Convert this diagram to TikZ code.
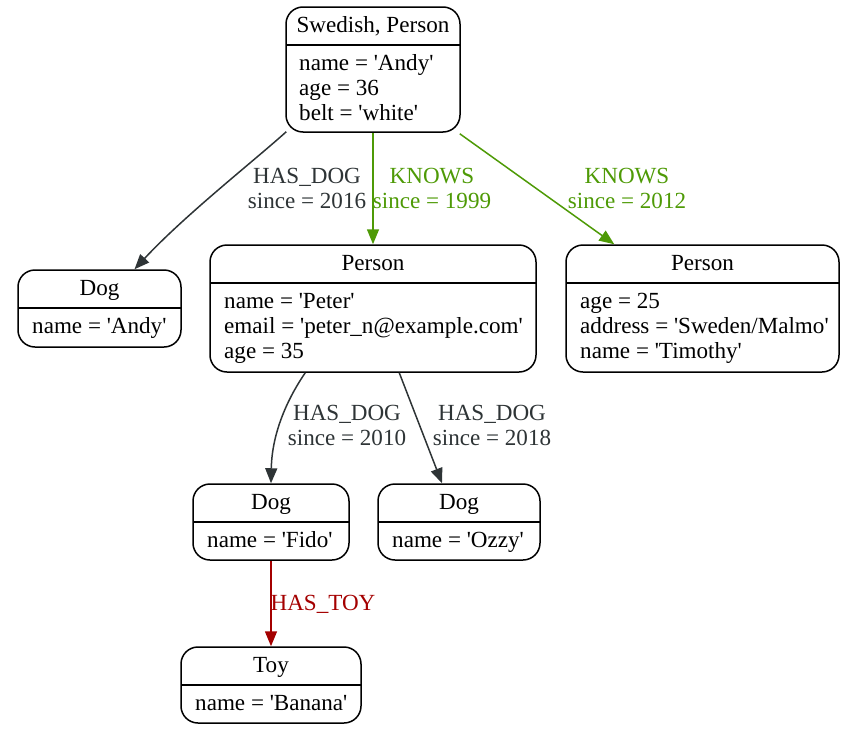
\documentclass[tikz,border=0pt]{standalone}
\usepackage{fontspec}
\setmainfont{Liberation Serif}[Ligatures=TeXOff]
\usetikzlibrary{arrows.meta,calc}
\definecolor{edgegray}{HTML}{2E3436}
\definecolor{knowsgreen}{HTML}{4E9A06}
\definecolor{toyred}{HTML}{A40000}
\tikzset{
  x=1pt,y=-1pt,
  box/.style={draw=black,line width=1.5pt,rounded corners=17pt,inner sep=0pt,fill=white},
  txt/.style={inner sep=0pt,font=\fontsize{23.1}{25}\selectfont},
  body/.style={txt,anchor=base west},
  head/.style={txt,anchor=base},
  divider/.style={line width=1.5pt},
  rel/.style={line width=1.5pt,-{Triangle[length=15pt,width=12pt]}},
  rellabel/.style={txt,anchor=base},
}
\begin{document}
\begin{tikzpicture}
\useasboundingbox (0,0) rectangle (868,739);
% nodes
\node[box,minimum width=174pt,minimum height=125pt] (andy) at (373,69.5) {};
\draw[divider] (286,45) -- (460,45);
\node[head] (andyh) at (373,32) {Swedish, Person};
\node[body] (andyb1) at (299,70) {name = 'Andy'};
\node[body] (andyb2) at (299,95) {age = 36};
\node[body] (andyb3) at (299,120) {belt = 'white'};

\node[box,minimum width=163pt,minimum height=77pt] (dog1) at (99.5,308.5) {};
\draw[divider] (18,308) -- (181,308);
\node[head] (dog1h) at (99.5,295) {Dog};
\node[body] (dog1b) at (32,333) {name = 'Andy'};

\node[box,minimum width=326pt,minimum height=127pt] (peter) at (373,308.5) {};
\draw[divider] (210,283) -- (536,283);
\node[head] (peterh) at (373,270) {Person};
\node[body] (peterb1) at (224,308) {name = 'Peter'};
\node[body] (peterb2) at (224,333) {email = 'peter\_n@example.com'};
\node[body] (peterb3) at (224,358) {age = 35};

\node[box,minimum width=273pt,minimum height=127pt] (tim) at (702.5,308.5) {};
\draw[divider] (566,283) -- (839,283);
\node[head] (timh) at (702.5,270) {Person};
\node[body] (timb1) at (580,308) {age = 25};
\node[body] (timb2) at (580,333) {address = 'Sweden/Malmo'};
\node[body] (timb3) at (580,358) {name = 'Timothy'};

\node[box,minimum width=156pt,minimum height=76pt] (fido) at (271,522) {};
\draw[divider] (193,522) -- (349,522);
\node[head] (fidoh) at (271,509) {Dog};
\node[body] (fidob) at (207,547) {name = 'Fido'};

\node[box,minimum width=162pt,minimum height=76pt] (ozzy) at (459,522) {};
\draw[divider] (378,522) -- (540,522);
\node[head] (ozzyh) at (459,509) {Dog};
\node[body] (ozzyb) at (392,547) {name = 'Ozzy'};

\node[box,minimum width=180pt,minimum height=76pt] (toy) at (271,685) {};
\draw[divider] (181,685) -- (361,685);
\node[head] (toyh) at (271,672) {Toy};
\node[body] (toyb) at (195,710) {name = 'Banana'};

% edges
\draw[rel,edgegray] ($(andy.south west)+(1,-1)$) .. controls (255,160) and (185,215) .. ($(dog1.north)+(35,0)$);
\node[rellabel,text=edgegray] (l1a) at (307,183) {HAS\_DOG};
\node[rellabel,text=edgegray] (l1b) at (307,208) {since = 2016};

\draw[rel,knowsgreen] (andy.south) -- (peter.north);
\node[rellabel,text=knowsgreen] (l2a) at (432,183) {KNOWS};
\node[rellabel,text=knowsgreen] (l2b) at (432,208) {since = 1999};

\draw[rel,knowsgreen] ($(andy.south east)+(-1,1)$) -- ($(tim.north west)+(49,0)$);
\node[rellabel,text=knowsgreen] (l3a) at (627,183) {KNOWS};
\node[rellabel,text=knowsgreen] (l3b) at (627,208) {since = 2012};

\draw[rel,edgegray] ($(peter.south west)+(96,0)$) .. controls (290,395) and (272,430) .. (fido.north);
\node[rellabel,text=edgegray] (l4a) at (347,420) {HAS\_DOG};
\node[rellabel,text=edgegray] (l4b) at (347,445) {since = 2010};

\draw[rel,edgegray] ($(peter.south west)+(190,0)$) -- ($(ozzy.north)+(-17,0)$);
\node[rellabel,text=edgegray] (l5a) at (492,420) {HAS\_DOG};
\node[rellabel,text=edgegray] (l5b) at (492,445) {since = 2018};

\draw[rel,toyred] (fido.south) -- (toy.north);
\node[rellabel,text=toyred] (l6) at (323,610) {HAS\_TOY};
\end{tikzpicture}
\end{document}
